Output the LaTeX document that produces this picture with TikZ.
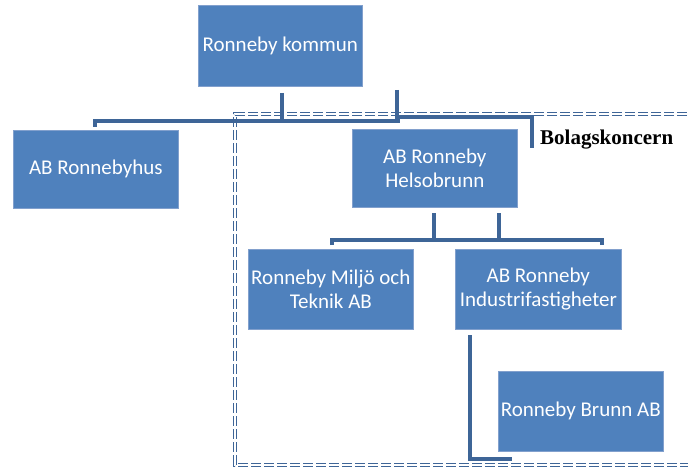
\documentclass[tikz,border=0pt]{standalone}
\usepackage{fontspec}
\setmainfont{Carlito}
\newfontfamily\serifbold{Liberation Serif}
\definecolor{boxblue}{RGB}{79,129,189}
\definecolor{boxedge}{RGB}{130,160,205}
\definecolor{linkblue}{RGB}{62,101,151}
\begin{document}
\begin{tikzpicture}[x=1pt,y=-1pt,
  orgbox/.style={draw=boxedge,line width=0.6pt,fill=boxblue,text=white,
    anchor=north west,inner sep=0pt,align=center,
    font=\fontsize{21}{24}\selectfont},
  link/.style={draw=linkblue,line width=3.5pt},
  group/.style={draw=linkblue,double=white,double distance=1.6pt,line width=1.3pt,dash pattern=on 10pt off 3pt}]
\useasboundingbox (0,0) rectangle (688,468);
% group frame
\draw[group] (700,114) -- (235,114) -- (235,465) -- (700,465);
% boxes
\node[orgbox,minimum width=164pt,minimum height=81pt] (kom) at (198,5) {Ronneby kommun};
\node[orgbox,minimum width=165pt,minimum height=78pt] (hus) at (13,130) {AB Ronnebyhus};
\node[orgbox,minimum width=165pt,minimum height=78pt] (hel) at (352,129) {AB Ronneby\\Helsobrunn};
\node[orgbox,minimum width=165pt,minimum height=80pt] (mil) at (248,249) {Ronneby Milj\"o och\\Teknik AB};
\node[orgbox,minimum width=166pt,minimum height=80pt] (ind) at (455,249) {AB Ronneby\\Industrifastigheter};
\node[orgbox,minimum width=165pt,minimum height=80pt] (bru) at (498,371) {Ronneby Brunn AB};
\node[anchor=west,inner sep=0pt,font=\serifbold\bfseries\fontsize{21}{24}\selectfont] (lbl) at (540,140) {Bolagskoncern};
% connectors
\draw[link] (282,93) -- (282,121);
\draw[link] (95,127) -- (95,121) -- (400,121);
\draw[link] (397,90) -- (397,117) -- (532,117) -- (532,148);
\draw[link] (434,213) -- (434,240);
\draw[link] (499,213) -- (499,240);
\draw[link] (332,245) -- (332,240) -- (602,240) -- (602,245);
\draw[link] (470,335) -- (470,459) -- (512,459);
\end{tikzpicture}
\end{document}
